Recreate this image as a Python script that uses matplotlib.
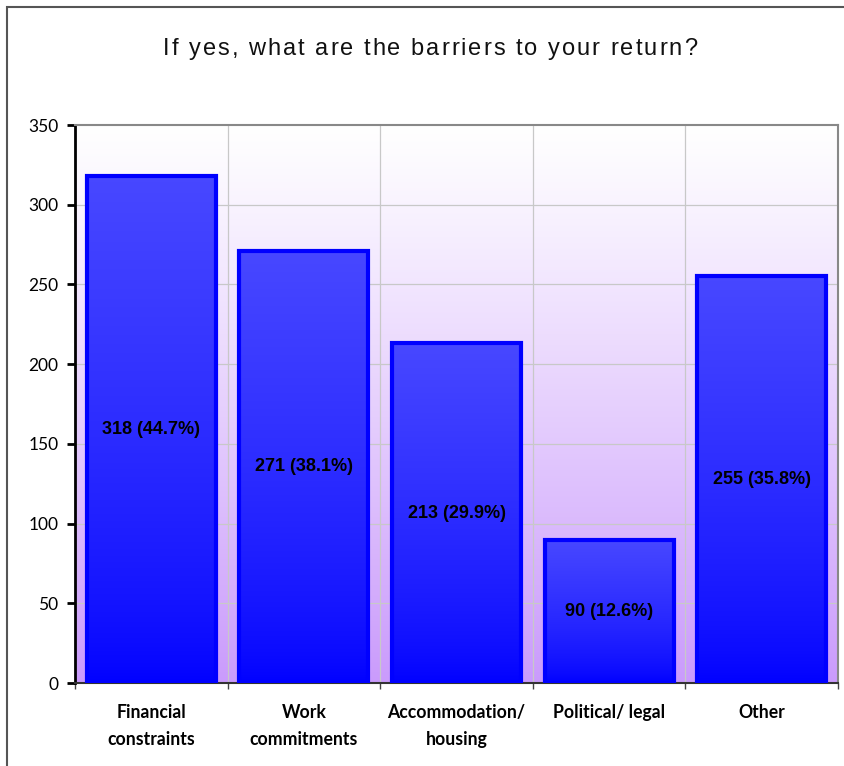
import numpy as np
import matplotlib
matplotlib.use("Agg")
import matplotlib.pyplot as plt
from matplotlib.patches import Rectangle
from matplotlib.colors import LinearSegmentedColormap
from matplotlib import font_manager

# ---- data ----
categories = ["Financial\nconstraints", "Work\ncommitments", "Accommodation/\nhousing",
              "Political/ legal", "Other"]
counts = [318, 271, 213, 90, 255]
percents = [44.7, 38.1, 29.9, 12.6, 35.8]
title = "If yes, what are the barriers to your return?"

W, H = 845, 766
fig = plt.figure(figsize=(W / 100, H / 100), dpi=100)
ax = fig.add_axes([75 / W, 1 - 683 / H, (838 - 75) / W, (683 - 125) / H])

# outer chart border (left + top visible)
fig.patches.append(Rectangle((7 / W, -0.2), 1.2, 1 - 7 / H + 0.2, transform=fig.transFigure,
                             fill=False, edgecolor="#555555", linewidth=1.5))

ymax = 350
ncat = len(categories)

# plot area gradient: lavender at bottom -> white at top
t = (1 - np.linspace(0, 1, 256)[:, None]) ** 1.1
top = np.array([255, 255, 255]) / 255
bot = np.array([202, 155, 252]) / 255
bg = top + (bot - top) * t[..., None]
bg = np.repeat(bg, 2, axis=1)
ax.imshow(bg, extent=(-0.5, ncat - 0.5, 0, ymax), aspect="auto",
          zorder=0, origin="lower")

# grid
for yv in range(50, ymax, 50):
    ax.axhline(yv, color="#c8c8c8", lw=0.9, zorder=1)
for xv in np.arange(0.5, ncat - 0.5, 1):
    ax.axvline(xv, color="#c8c8c8", lw=0.9, zorder=1)

# bars with vertical gradient
bar_cmap = LinearSegmentedColormap.from_list("b", [(0, 0, 1), (0.28, 0.28, 1)])
grad = np.linspace(0, 1, 256)[:, None] ** 0.7
grad = np.repeat(grad, 2, axis=1)
x = np.arange(ncat)
bars = ax.bar(x, counts, width=0.845, facecolor="none", edgecolor="#0000ff",
              linewidth=3, zorder=4)
for b, c, p in zip(bars, counts, percents):
    x0, w, h = b.get_x(), b.get_width(), b.get_height()
    im = ax.imshow(grad, extent=(x0, x0 + w, 0, h), aspect="auto", cmap=bar_cmap,
                   origin="lower", zorder=3)
    im.set_clip_path(b)
    ax.text(x0 + w / 2, h / 2, f"{c} ({p}%)", ha="center", va="center",
            fontsize=13, fontweight="bold", family="Liberation Sans", zorder=5)
ax.set_xlim(-0.5, ncat - 0.5)
ax.set_ylim(0, ymax)

# spines
for s in ["top", "right"]:
    ax.spines[s].set_color("#888888")
    ax.spines[s].set_linewidth(1.5)
ax.spines["left"].set_color("black")
ax.spines["left"].set_linewidth(2)
ax.spines["bottom"].set_color("#333333")
ax.spines["bottom"].set_linewidth(1.5)

ax.set_yticks(range(0, ymax + 1, 50))
ax.tick_params(axis="y", length=6, width=2, color="black", labelsize=12.5, pad=6)
ax.set_xticks(np.arange(-0.5, ncat, 1))
ax.set_xticklabels([])
ax.tick_params(axis="x", length=4, width=1, color="#444444")
for lab in ax.get_yticklabels():
    lab.set_family("Lato")

for xi, cat in zip(x, categories):
    ax.text(xi, -13, cat, ha="center", va="top", fontsize=12.7, fontweight="bold",
            family="Lato", linespacing=1.7)

# title, letter-spaced like the original
fp = font_manager.FontProperties(family="Liberation Sans", size=17)
rend = fig.canvas.get_renderer()
def tw(s):
    return rend.get_text_width_height_descent(s, fp, ismath=False)[0]
space_w = tw("x x") - tw("xx")
adv = [space_w if ch == " " else tw(ch) for ch in title]
target_w = 534
gap = (target_w - sum(adv)) / (len(title) - 1)
xpos = 163
for ch, a in zip(title, adv):
    if ch != " ":
        fig.text(xpos / W, 1 - 55 / H, ch, ha="left", va="baseline", fontproperties=fp,
                 color="#111111")
    xpos += a + gap

fig.savefig("out.png", dpi=100)
